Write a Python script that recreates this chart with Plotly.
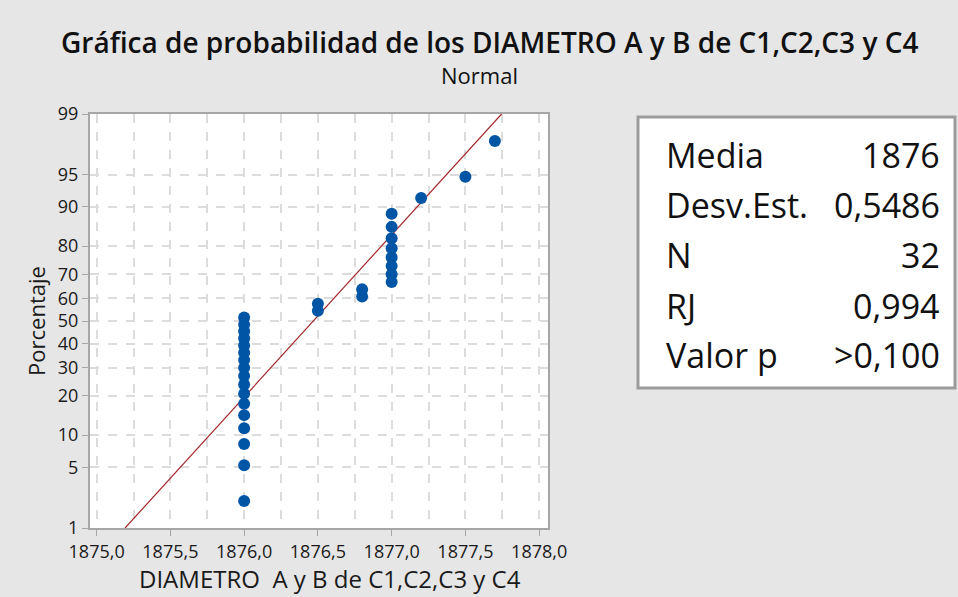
from statistics import NormalDist
import plotly.graph_objects as go

# Measured diameters (sorted), 32 observations
diametro = [1876.0] * 17 + [1876.5] * 2 + [1876.8] * 2 + [1877.0] * 8 + [1877.2, 1877.5, 1877.7]

# Probability-scale tick labels (percent)
pct_ticks = [1, 5, 10, 20, 30, 40, 50, 60, 70, 80, 90, 95, 99]
x_ticks = [1875.0, 1875.5, 1876.0, 1876.5, 1877.0, 1877.5, 1878.0]
x_tick_text = ["1875,0", "1875,5", "1876,0", "1876,5", "1877,0", "1877,5", "1878,0"]

# Summary statistics shown in the side table
stat_labels = ["Media", "Desv.Est.", "N", "RJ", "Valor p"]
stat_values = ["1876", "0,5486", "32", "0,994", ">0,100"]
media = 1876.469
desv = 0.5486

nd = NormalDist()
n = len(diametro)
# Median ranks (Benard) mapped to normal quantiles
z_pts = [nd.inv_cdf((i + 1 - 0.3) / (n + 0.4)) for i in range(n)]

z_lo, z_hi = nd.inv_cdf(0.01), nd.inv_cdf(0.99)
fit_x = [media + desv * z_lo, media + desv * z_hi]
fit_z = [z_lo, z_hi]

FONT = "Open Sans"
TXT = "#1a1a1a"

fig = go.Figure()
fig.add_trace(go.Scatter(x=fit_x, y=fit_z, mode="lines",
                         line=dict(color="#A3262A", width=1.2), hoverinfo="skip"))
fig.add_trace(go.Scatter(x=diametro, y=z_pts, mode="markers",
                         marker=dict(color="#0055A5", size=12, line=dict(width=0))))

grid_col = "#dcdcdc"
fig.update_layout(
    xaxis=dict(
        range=[1874.955, 1878.06], tickmode="array", tickvals=x_ticks, ticktext=x_tick_text,
        showgrid=True, gridcolor=grid_col, griddash="dash", gridwidth=1.5,
        minor=dict(dtick=0.25, tick0=1875.0, showgrid=True, gridcolor=grid_col,
                   griddash="dash", gridwidth=1.5, ticks=""),
        showline=True, linecolor="#a6a6a6", linewidth=2, mirror=True,
        ticks="outside", ticklen=6, tickcolor="#a6a6a6", tickwidth=1,
        tickfont=dict(family=FONT, size=18, color=TXT), zeroline=False,
    ),
    yaxis=dict(
        range=[z_lo, z_hi], tickmode="array",
        tickvals=[nd.inv_cdf(p / 100) for p in pct_ticks],
        ticktext=[str(p) for p in pct_ticks],
        showgrid=True, gridcolor=grid_col, griddash="dash", gridwidth=1.5,
        showline=True, linecolor="#a6a6a6", linewidth=2, mirror=True,
        ticks="outside", ticklen=6, tickcolor="#a6a6a6", tickwidth=1,
        tickfont=dict(family=FONT, size=18, color=TXT), zeroline=False,
        title=dict(text="Porcentaje", font=dict(family=FONT, size=22, color=TXT), standoff=6),
    ),
)

# Plot area in pixels: x 90..548, y 114..528
L, R, T, B = 90, 548, 114, 528
W, H = 958, 597


def px(x):
    return (x - L) / (R - L)


def py(y):
    return (B - y) / (B - T)


# Statistics table box
fig.add_shape(type="rect", xref="paper", yref="paper",
              x0=px(638), x1=px(955), y0=py(388), y1=py(117),
              fillcolor="white", line=dict(color="#9c9c9c", width=3))
row_y = [155, 205, 255, 306, 355]
for lab, val, ry in zip(stat_labels, stat_values, row_y):
    fig.add_annotation(xref="paper", yref="paper", x=px(664), y=py(ry), text=lab,
                       showarrow=False, xanchor="left", yanchor="middle",
                       font=dict(family=FONT, size=34, color="#111"))
    fig.add_annotation(xref="paper", yref="paper", x=px(942), y=py(ry), text=val,
                       showarrow=False, xanchor="right", yanchor="middle",
                       font=dict(family=FONT, size=34, color="#111"))

# Titles
fig.add_annotation(xref="paper", yref="paper", x=px(489), y=py(42),
                   text="Gráfica de probabilidad de los DIAMETRO A y B de C1,C2,C3 y C4",
                   showarrow=False, xanchor="center", yanchor="middle",
                   font=dict(family=FONT, size=28, color="#111", weight=600))
fig.add_annotation(xref="paper", yref="paper", x=px(479), y=py(75), text="Normal",
                   showarrow=False, xanchor="center", yanchor="middle",
                   font=dict(family=FONT, size=22, color="#111", weight=500))
# X axis title
fig.add_annotation(xref="paper", yref="paper", x=px(330), y=py(578),
                   text="DIAMETRO  A y B de C1,C2,C3 y C4",
                   showarrow=False, xanchor="center", yanchor="middle",
                   font=dict(family=FONT, size=24, color=TXT))

fig.update_layout(
    width=W, height=H, autosize=False,
    margin=dict(l=L, r=W - R, t=T, b=H - B, pad=0),
    paper_bgcolor="#e6e6e6", plot_bgcolor="white",
    showlegend=False,
)

fig.write_html("out.html")
